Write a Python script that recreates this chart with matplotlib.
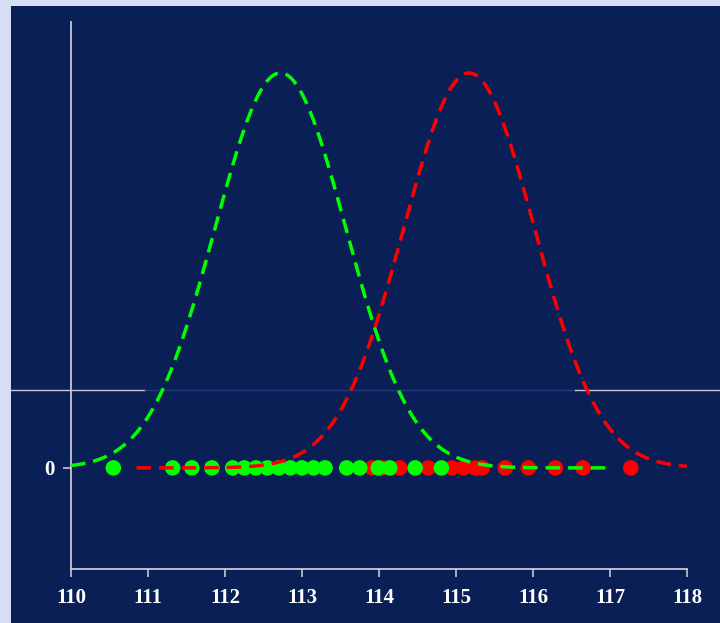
import matplotlib.pyplot as plt
import numpy as np
from matplotlib.patches import Rectangle
import matplotlib.transforms as mtransforms

NAVY = "#0a1f56"
FRAME = "#d8ddf6"
AXIS_COLOR = "#c8c8d0"
GREEN = "#00ff00"
RED = "#ff0000"

# fitted normal curves (peak scaled to 1)
green_mean, green_sd = 112.72, 0.85
red_mean, red_sd = 115.17, 0.85
green_range = (110.0, 117.0)
red_range = (110.85, 118.0)

# individual observations along the zero line
green_points = [110.55, 111.32, 111.57, 111.83, 112.1, 112.25, 112.4, 112.55,
                112.7, 112.85, 113.0, 113.15, 113.3, 113.58, 113.75, 113.99,
                114.14, 114.47, 114.81]
red_points = [113.91, 114.05, 114.27, 114.64, 114.95, 115.1, 115.25, 115.34,
              115.64, 115.94, 116.29, 116.65, 117.27]

x_ticks = [110, 111, 112, 113, 114, 115, 116, 117, 118]
ref_line_y = 0.197  # the stray horizontal rule across the chart


def normal_curve(mean, sd, lo, hi):
    xs = np.linspace(lo, hi, 400)
    return xs, np.exp(-((xs - mean) ** 2) / (2 * sd ** 2))


fig = plt.figure(figsize=(7.2, 6.23), dpi=100, facecolor=FRAME)
fig.patches.append(Rectangle((11 / 720, 0), 1, (623 - 6) / 623,
                             transform=fig.transFigure, facecolor=NAVY,
                             edgecolor="none", zorder=-10))

ax = fig.add_axes([71 / 720, (623 - 569) / 623, 616 / 720, 547 / 623])
ax.set_facecolor("none")
ax.set_xlim(110, 118)
ax.set_ylim(-0.256, 1.129)

for side in ("top", "right"):
    ax.spines[side].set_visible(False)
for side in ("left", "bottom"):
    ax.spines[side].set_color(AXIS_COLOR)
    ax.spines[side].set_linewidth(1.3)

ax.set_xticks(x_ticks)
ax.set_xticklabels([str(t) for t in x_ticks])
ax.set_yticks([0])
ax.set_yticklabels(["0"])
ax.tick_params(colors=AXIS_COLOR, length=6, width=1.2, direction="out")
ax.tick_params(axis="x", pad=8)
ax.tick_params(axis="y", pad=6)
for lab in ax.get_xticklabels() + ax.get_yticklabels():
    lab.set_fontfamily("Liberation Serif")
    lab.set_fontweight("bold")
    lab.set_fontsize(15)
    lab.set_color("white")

ax.scatter(red_points, [0] * len(red_points), s=125, color=RED, zorder=2,
           edgecolors="none")
ax.scatter(green_points, [0] * len(green_points), s=125, color=GREEN, zorder=3,
           edgecolors="none")

xs, ys = normal_curve(red_mean, red_sd, *red_range)
ax.plot(xs, ys, color=RED, lw=2.5, linestyle=(0, (4.2, 2.3)), zorder=4)
xs, ys = normal_curve(green_mean, green_sd, *green_range)
ax.plot(xs, ys, color=GREEN, lw=2.5, linestyle=(0, (4.2, 2.3)), zorder=5)

# horizontal rule: light at the ends, faint in the middle
trans = mtransforms.blended_transform_factory(ax.transAxes, ax.transData)
ax.plot([-0.099, 0.12], [ref_line_y] * 2, transform=trans, color=AXIS_COLOR,
        lw=1.0, clip_on=False, zorder=1)
ax.plot([0.12, 0.818], [ref_line_y] * 2, transform=trans, color="#1f3d78",
        lw=1.0, clip_on=False, zorder=1)
ax.plot([0.818, 1.054], [ref_line_y] * 2, transform=trans, color=AXIS_COLOR,
        lw=1.0, clip_on=False, zorder=1)

fig.savefig("out.png", dpi=100, facecolor=FRAME)
